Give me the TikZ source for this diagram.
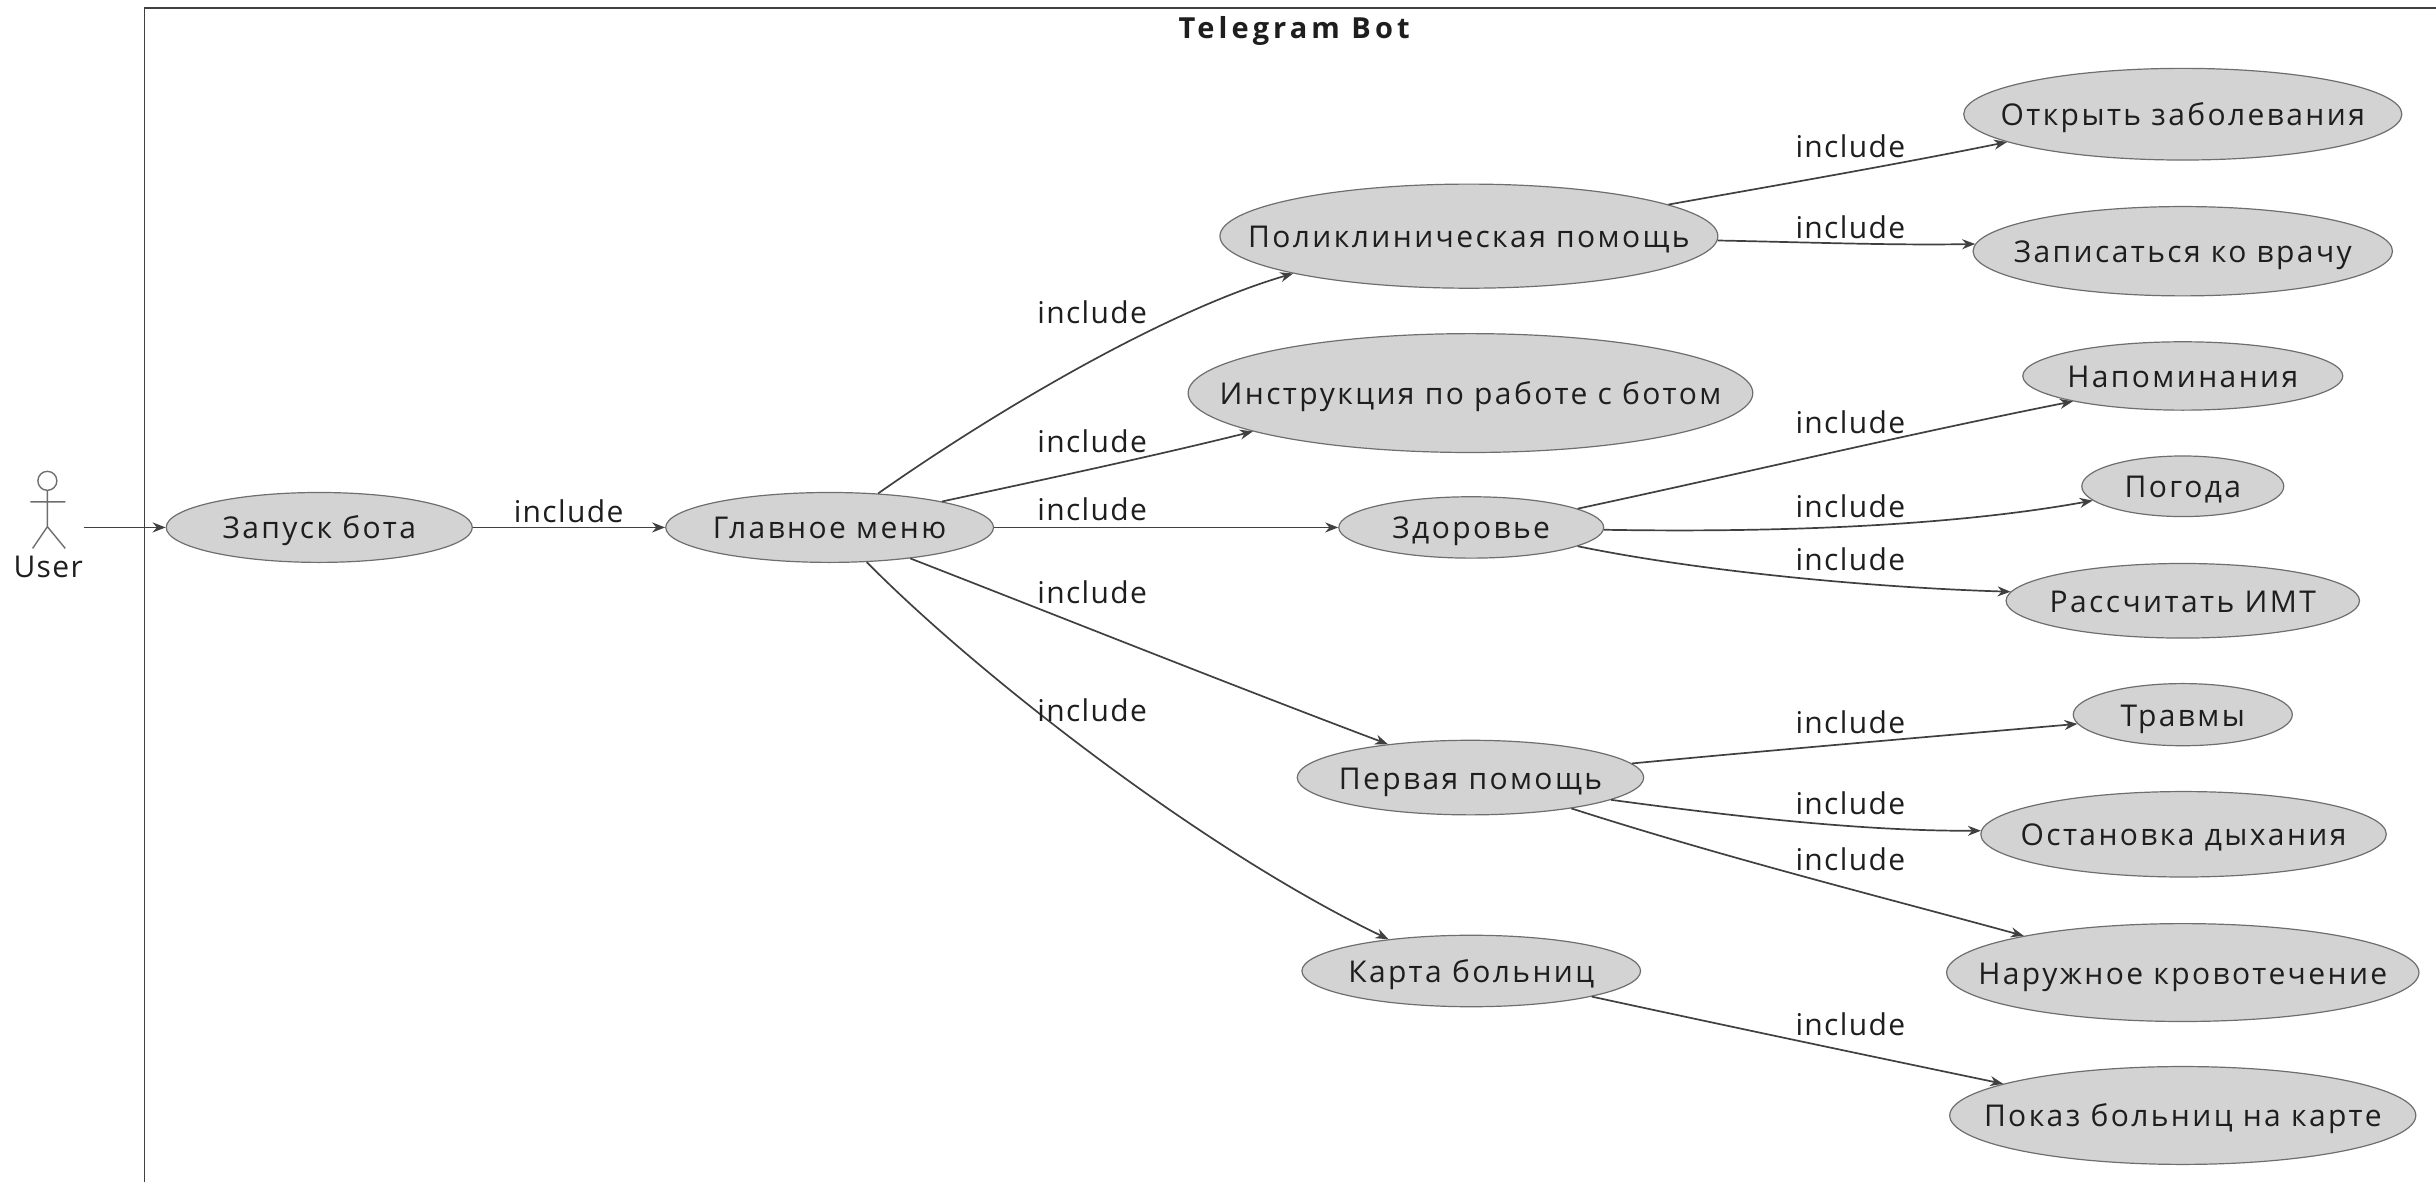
\documentclass[tikz,border=0pt]{standalone}
\usepackage{fontspec}
\setmainfont{Open Sans}[LetterSpace=4.5]
\usetikzlibrary{arrows.meta,shapes.geometric}
\definecolor{ucfill}{HTML}{D3D3D3}
\definecolor{ucline}{HTML}{6E6E6E}
\definecolor{conn}{HTML}{404040}
\definecolor{ink}{HTML}{1E1E1E}
\tikzset{
  x=1.5536pt,y=-1.5536pt,
  uc/.style={ellipse,draw=ucline,fill=ucfill,line width=1.2pt,inner sep=0pt,text=ink,font=\fontsize{30}{34}\selectfont\addfontfeature{LetterSpace=8}},
  lab/.style={text=ink,inner sep=0pt,font=\fontsize{30}{34}\selectfont},
  conn/.style={draw=conn,line width=1.7pt,-{Stealth[length=13pt,width=10pt]}},
  actorline/.style={draw=ucline,line width=1.4pt},
}
\newcommand{\ucn}[6]{\node[uc,minimum width=#4*1.5536pt,minimum height=#5*1.5536pt] (#1) at (#2,#3) {\raisebox{-11.5pt}[0pt][0pt]{\makebox[0pt][c]{#6}}};}
\begin{document}
\begin{tikzpicture}
\useasboundingbox (0,0) rectangle (1568,761);
\draw[draw=conn,line width=1.6pt] (93,761) -- (93,5) -- (1568,5);
\node[lab,font=\fontsize{29}{32}\selectfont\bfseries\addfontfeature{LetterSpace=14}] (title) at (833,20) {Telegram Bot};
% actor
\node[circle,draw=ucline,line width=1.4pt,minimum size=19pt,inner sep=0pt] (head) at (30.5,309.5) {};
\coordinate (hip) at (30.5,339);
\coordinate (armL) at (19.5,323);
\coordinate (armR) at (42,323);
\coordinate (legL) at (21,353);
\coordinate (legR) at (42,353);
\draw[actorline] (head) -- (hip) (armL) -- (armR) (legL) -- (hip) -- (legR);
\node[lab] (user) at (31,365) {User};
\coordinate (start) at (54,339.5);
% use cases
\ucn{run}{205.5}{339.5}{197}{45}{Запуск бота}
\ucn{m}{534}{339.5}{211}{45}{Главное меню}
\ucn{p}{945.5}{152}{320.5}{67}{Поликлиническая помощь}
\ucn{ins}{946.5}{253}{363.5}{76.5}{Инструкция по работе с ботом}
\ucn{z}{947}{339.5}{170.5}{39.5}{Здоровье}
\ucn{f}{946.5}{500.5}{223}{48}{Первая помощь}
\ucn{k}{947}{625}{218}{46}{Карта больниц}
\ucn{o}{1405}{73.5}{282}{59}{Открыть заболевания}
\ucn{w}{1405}{161.7}{270}{57.5}{Записаться ко врачу}
\ucn{n}{1405}{242}{206}{44}{Напоминания}
\ucn{g}{1405}{313}{130}{39}{Погода}
\ucn{i}{1405}{386.7}{227.5}{48}{Рассчитать ИМТ}
\ucn{t}{1405}{460}{141}{40}{Травмы}
\ucn{d}{1405.5}{537}{261}{55}{Остановка дыхания}
\ucn{b}{1405}{626}{304}{63}{Наружное кровотечение}
\ucn{s}{1405}{718}{300}{63}{Показ больниц на карте}
% connectors
\draw[conn] (start) -- (run);
\draw[conn] (run) -- (m);
\draw[conn] (m.35.4) .. controls (640,265) and (750,200) .. (p.192.5);
\draw[conn] (m.13.5) .. controls (675,308) and (745,293) .. (ins.190.6);
\draw[conn] (m) -- (z);
\draw[conn] (m.-21) .. controls (690,400) and (790,440) .. (f.158.8);
\draw[conn] (m.-43.5) .. controls (625,430) and (770,545) .. (k.159);
\draw[conn] (p.9.6) .. controls (1145,119) and (1220,106) .. (o.189.4);
\draw[conn] (p.-1.4) .. controls (1165,156) and (1220,158) .. (w.178.5);
\draw[conn] (z.10.6) .. controls (1120,305) and (1230,279) .. (n.193);
\draw[conn] (z.-1.4) .. controls (1150,343) and (1260,338) .. (g.189.5);
\draw[conn] (z.-10.3) .. controls (1090,367) and (1200,378) .. (i.177.8);
\draw[conn] (f.5.2) .. controls (1150,482) and (1245,474) .. (t.185);
\draw[conn] (f.-9.3) .. controls (1120,526) and (1200,535) .. (d.179.6);
\draw[conn] (f.-17.4) .. controls (1110,552) and (1210,577) .. (b.167);
\draw[conn] (k.-12.7) .. controls (1110,660) and (1200,679) .. (s.170);
% labels
\node[lab] (l1) at (366,329) {include};
\node[lab] (l2) at (703,201) {include};
\node[lab] (l3) at (703,284) {include};
\node[lab] (l4) at (703,328) {include};
\node[lab] (l5) at (703,381) {include};
\node[lab] (l6) at (703,457) {include};
\node[lab] (l7) at (1191,94) {include};
\node[lab] (l8) at (1191,146) {include};
\node[lab] (l9) at (1191,272) {include};
\node[lab] (l10) at (1191,326) {include};
\node[lab] (l11) at (1191,360) {include};
\node[lab] (l12) at (1191,465) {include};
\node[lab] (l13) at (1191,517) {include};
\node[lab] (l14) at (1191,553) {include};
\node[lab] (l15) at (1191,659) {include};
\end{tikzpicture}
\end{document}
